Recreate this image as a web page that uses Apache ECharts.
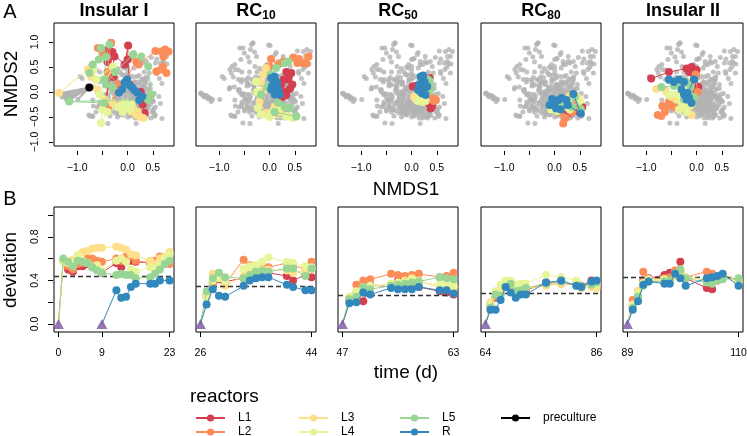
<!DOCTYPE html>
<html><head><meta charset="utf-8">
<script src="https://cdn.jsdelivr.net/npm/echarts@6/dist/echarts.min.js"></script>
<style>html,body{margin:0;padding:0;background:#fff}#c{width:747px;height:436px}</style>
</head><body><div id="c"></div>
<script>
// ---------- labels ----------
const reactors = ['L1','L2','L3','L4','L5','R'];
const reactorColors = ['#D53E4F','#FC8D59','#FEE08B','#E6F598','#99D594','#3288BD'];
const phaseTitles = ['Insular I','RC10','RC50','RC80','Insular II'];
const nmdsTicks = [-1,-0.5,0,0.5];
const nmdsTickLabels = [-1,0,0.5];
const nmds2Ticks = [-1,-0.5,0,0.5,1];
const devTicks = [0,0.2,0.4,0.6,0.8,1.0];
const devTickLabels = [0,0.4,0.8];
const timeTicks = [[0,9,23],[26,44],[47,63],[64,86],[89,110]];
const phaseStart = [0,26,47,64,89];
const insularIRStart = 9;
const thresholds = [0.44,0.35,0.26,0.275,0.43];

// ---------- panel A: NMDS coordinates ----------
const preculture = [[-0.76,0.09]];
const leftTail = [[-1.37,-0.03],[-1.34,-0.05],[-1.31,-0.06],[-1.28,-0.08],[-1.25,-0.07],[-1.23,-0.10],[-1.20,-0.11],[-1.17,-0.13],[-1.13,-0.15],[-1.30,-0.10],[-1.22,-0.14],[-0.99,-0.15]];
const bgScatter = [[-0.94,0.31],[-0.79,0.09],[-0.62,0.04],[-0.52,-0.03],[-0.69,-0.16],[-0.46,-0.16],[-0.56,-0.29],[-0.75,-0.48],[-0.69,-0.49],[-0.39,-0.63],[-0.62,0.44],[-0.75,0.51],[-0.56,0.20],[-0.42,0.29],[-0.32,0.24],[-0.22,0.29],[-0.09,0.34],[-0.39,0.14],[-0.29,0.11],[-0.19,0.17],[-0.12,0.09],[0.38,-0.46],[0.50,-0.37],[0.55,-0.46],[0.68,-0.53],[0.45,0.07],[0.53,-0.03],[0.62,-0.09],[0.51,-0.19],[0.65,-0.23],[0.13,0.79],[0.05,0.67],[-0.02,0.94],[0.58,0.37],[0.63,0.27],[0.68,0.17],[0.78,0.56],[0.71,0.61],
 [-0.45,-0.05],[-0.38,-0.10],[-0.30,-0.02],[-0.25,-0.12],[-0.20,-0.05],[-0.15,-0.15],[-0.10,-0.02],[-0.05,-0.10],[0.00,-0.05],[0.05,-0.15],[0.10,-0.08],[0.15,-0.20],[0.20,-0.12],[0.25,-0.25],[-0.40,-0.20],[-0.35,-0.28],[-0.28,-0.22],[-0.22,-0.30],[-0.18,-0.25],[-0.12,-0.32],[-0.08,-0.22],[-0.02,-0.28],[0.03,-0.35],[0.08,-0.25],[0.12,-0.32],[0.18,-0.38],[0.22,-0.30],[0.28,-0.35],[-0.30,-0.38],[-0.25,-0.42],[-0.18,-0.40],[-0.10,-0.45],[-0.05,-0.38],[0.00,-0.42],[0.06,-0.48],[0.12,-0.44],[-0.42,-0.32],[-0.48,-0.15],[-0.32,0.04],[-0.18,0.02],[-0.06,0.05],[0.06,0.00],[0.12,0.05],[0.20,-0.02],[0.27,0.02],[-0.15,-0.35],[-0.35,-0.48],[-0.20,-0.50],[0.15,-0.52],[0.24,-0.45],[-0.55,-0.25],[-0.50,-0.38]];

const nmdsI_L1 = [[-0.33,0.98],[-0.30,0.80],[-0.45,-0.28],[-0.26,0.71],[-0.40,0.60],[-0.28,0.30],[-0.38,0.85],[-0.06,0.55],[0.01,0.93],[0.00,0.65],[0.04,0.15],[0.26,0.00],[0.31,-0.12],[0.30,-0.25],[0.34,-0.42]];
const nmdsI_L2 = [[-0.59,0.88],[-0.50,0.78],[-0.33,0.98],[-0.40,0.40],[-0.19,0.15],[-0.39,-0.35],[0.17,0.61],[0.22,0.55],[0.55,0.82],[0.67,0.81],[0.74,0.85],[0.81,0.81],[0.71,0.71],[0.66,0.45],[0.57,0.41],[0.77,0.38],[0.70,0.50]];
const nmdsI_L3 = [[-1.36,-0.02],[-0.79,0.45],[-0.72,0.30],[-0.60,0.05],[-0.45,-0.15],[-0.30,-0.22],[-0.13,-0.25],[-0.08,-0.33],[-0.03,-0.30],[0.07,-0.39],[0.12,-0.35],[0.17,-0.45],[0.24,-0.49],[0.31,-0.52],[0.20,-0.40]];
const nmdsI_L4 = [[-0.68,0.45],[-0.62,0.25],[-0.29,0.51],[-0.55,-0.05],[-0.50,-0.35],[-0.53,-0.62],[-0.40,-0.40],[-0.20,-0.30],[-0.13,-0.29],[-0.05,-0.22],[0.00,-0.30],[0.08,-0.25],[-0.10,-0.40],[0.05,-0.35]];
const nmdsI_L5 = [[-0.76,0.38],[-0.69,0.55],[-0.57,0.65],[-0.53,0.88],[-0.36,0.95],[-0.43,0.70],[-0.46,0.25],[-0.43,0.15],[-0.25,0.40],[0.11,0.75],[0.27,0.71],[0.41,0.51],[0.47,-0.05],[0.40,-0.15],[-1.16,-0.19],[-0.46,-0.22],[-0.30,0.10]];
const nmdsI_R = [[-0.17,-0.01],[-0.11,0.05],[-0.06,0.19],[-0.01,0.25],[0.03,0.14],[0.09,0.09],[0.13,0.04],[0.19,-0.01],[0.29,-0.09],[0.23,-0.16]];

const nmdsRC10_L1 = [[0.33,0.40],[0.43,0.38],[0.37,0.25],[0.45,0.15],[0.40,0.06],[0.30,0.00],[0.33,-0.06],[0.25,-0.10],[0.23,0.15],[0.28,0.25],[0.38,0.30]];
const nmdsRC10_L2 = [[0.00,0.51],[0.03,0.66],[0.17,0.55],[0.27,0.61],[0.47,0.69],[0.58,0.66],[0.65,0.58],[0.73,0.57],[0.77,0.71],[0.55,0.58]];
const nmdsRC10_L3 = [[-0.07,0.48],[-0.12,0.35],[-0.18,0.20],[-0.10,0.05],[-0.20,-0.20],[-0.07,-0.42],[0.05,-0.45],[0.20,-0.40],[0.35,-0.48],[0.10,-0.30]];
const nmdsRC10_L4 = [[-0.27,0.21],[-0.25,0.00],[-0.23,-0.32],[-0.17,-0.45],[0.05,-0.40],[0.20,-0.35],[0.33,-0.49],[0.46,-0.52],[0.00,-0.50]];
const nmdsRC10_L5 = [[0.13,0.48],[0.30,0.58],[0.37,0.61],[0.02,0.35],[-0.17,-0.05],[-0.05,0.10],[0.17,-0.22],[0.30,-0.30],[0.40,-0.32],[0.53,-0.49],[0.10,-0.40]];
const nmdsRC10_R = [[0.03,0.28],[0.10,0.31],[0.13,0.21],[0.07,0.15],[0.10,0.08],[0.17,0.05],[0.03,0.05],[0.13,-0.02],[0.20,-0.05],[0.10,-0.05],[0.05,0.12],[0.15,0.18]];

const nmdsRC50_L1 = [[0.02,0.11],[0.08,0.12],[0.36,0.28],[0.30,-0.10],[0.35,-0.23],[0.41,-0.28],[0.38,-0.33]];
const nmdsRC50_L2 = [[0.28,-0.10],[0.40,-0.12],[0.48,-0.15],[0.44,-0.18]];
const nmdsRC50_L3 = [[0.05,-0.09],[0.08,-0.14],[0.15,-0.16],[0.20,-0.12],[0.27,-0.14],[0.12,-0.06]];
const nmdsRC50_L4 = [[0.12,-0.18],[0.22,-0.20],[0.28,-0.18],[0.18,-0.10],[0.30,-0.02]];
const nmdsRC50_L5 = [[0.31,0.26],[0.36,0.22],[0.35,0.17],[0.30,0.10],[0.37,0.05],[0.33,0.13]];
const nmdsRC50_R = [[0.18,0.31],[0.23,0.33],[0.21,0.20],[0.15,0.14],[0.13,0.04],[0.18,0.00],[0.25,0.07],[0.31,0.11],[0.21,-0.03],[0.28,-0.06],[0.26,0.20]];

const nmdsRC80_L1 = [[0.02,-0.25],[0.20,-0.35],[0.30,-0.42],[0.48,-0.40],[0.55,-0.30]];
const nmdsRC80_L2 = [[0.00,-0.22],[0.10,-0.40],[0.17,-0.63],[0.22,-0.52],[0.35,-0.40],[0.45,-0.25]];
const nmdsRC80_L3 = [[-0.07,-0.20],[0.05,-0.30],[0.15,-0.22],[0.30,-0.08],[0.45,-0.10],[0.20,-0.28]];
const nmdsRC80_L4 = [[-0.07,-0.35],[0.05,-0.38],[0.18,-0.30],[0.37,-0.09],[0.50,-0.18],[0.30,-0.35]];
const nmdsRC80_L5 = [[-0.08,-0.20],[0.00,-0.28],[0.10,-0.25],[0.25,-0.20],[0.40,-0.10],[0.52,-0.34],[0.35,-0.30],[0.15,-0.30]];
const nmdsRC80_R = [[-0.10,-0.26],[-0.05,-0.14],[0.02,-0.19],[0.08,-0.16],[0.14,-0.12],[0.23,-0.16],[0.37,-0.04],[0.52,-0.43],[0.26,-0.26],[0.03,-0.33],[0.12,-0.35],[-0.05,-0.25]];

const nmdsII_L1 = [[-0.90,0.27],[-0.55,0.40],[-0.20,0.47],[-0.10,0.50],[0.00,0.44],[-0.15,0.40],[-0.05,0.25],[0.03,0.10],[-0.02,0.00]];
const nmdsII_L2 = [[-0.77,-0.46],[-0.70,-0.48],[-0.63,-0.40],[-0.60,-0.30],[-0.68,-0.28],[-0.55,-0.20],[-0.45,-0.30],[0.02,0.00],[-0.02,0.35]];
const nmdsII_L3 = [[-0.80,0.06],[-0.60,0.00],[-0.50,-0.10],[-0.40,-0.15],[-0.25,-0.25],[-0.15,-0.30],[-0.10,-0.46]];
const nmdsII_L4 = [[-0.55,-0.05],[-0.40,-0.05],[-0.30,-0.20],[-0.25,-0.30],[-0.35,-0.35],[-0.20,-0.40],[-0.10,-0.25]];
const nmdsII_L5 = [[-0.70,0.10],[-0.45,0.12],[-0.30,0.15],[-0.20,0.20],[-0.12,0.10],[-0.05,-0.10],[-0.15,-0.05],[-0.25,-0.15]];
const nmdsII_R = [[-0.55,0.25],[-0.45,0.20],[-0.35,0.25],[-0.25,0.20],[-0.30,0.05],[-0.25,-0.05],[-0.20,-0.15],[-0.15,-0.12],[-0.10,-0.22],[-0.18,-0.02],[-0.05,0.25]];

// ---------- panel B: deviation over time ----------
const daysI = [1,2,3,4,5,6,7,8,9,12,13,14,15,16,19,20,21,22,23];
const daysIR = [12,13,14,15,16,19,20,21,23];
const devI_L1 = [0.58,0.50,0.48,0.53,0.53,0.55,0.52,0.50,0.47,0.56,0.52,0.60,0.58,0.57,0.56,0.54,0.58,0.55,0.57];
const devI_L2 = [0.58,0.53,0.50,0.55,0.56,0.60,0.60,0.58,0.57,0.60,0.58,0.62,0.62,0.58,0.56,0.58,0.62,0.60,0.55];
const devI_L3 = [0.58,0.57,0.59,0.63,0.66,0.67,0.69,0.70,0.70,0.71,0.70,0.68,0.64,0.63,0.58,0.55,0.60,0.62,0.66];
const devI_L4 = [0.57,0.56,0.55,0.63,0.58,0.56,0.52,0.54,0.49,0.58,0.60,0.57,0.50,0.48,0.52,0.50,0.54,0.60,0.64];
const devI_L5 = [0.60,0.57,0.53,0.58,0.57,0.56,0.52,0.49,0.47,0.45,0.46,0.45,0.45,0.42,0.43,0.46,0.50,0.55,0.58];
const devI_R = [0.31,0.24,0.25,0.34,0.37,0.37,0.37,0.40,0.40];

const daysRC10 = [27,28,29,30,33,34,35,36,37,40,41,43,44];
const devRC10_L1 = [0.25,0.38,0.41,0.39,0.42,0.43,0.44,0.45,0.47,0.44,0.40,0.45,0.43];
const devRC10_L2 = [0.27,0.37,0.44,0.37,0.59,0.54,0.50,0.52,0.52,0.56,0.53,0.51,0.57];
const devRC10_L3 = [0.26,0.46,0.42,0.35,0.44,0.48,0.50,0.50,0.50,0.49,0.47,0.49,0.50];
const devRC10_L4 = [0.24,0.40,0.43,0.40,0.51,0.53,0.54,0.57,0.61,0.57,0.56,0.53,0.52];
const devRC10_L5 = [0.30,0.42,0.47,0.43,0.42,0.45,0.48,0.49,0.48,0.51,0.51,0.44,0.51];
const devRC10_R = [0.18,0.32,0.26,0.25,0.35,0.40,0.42,0.43,0.43,0.36,0.34,0.31,0.31];

const daysRC50 = [48,49,50,51,54,55,56,57,58,61,62,63];
const devRC50_L1 = [0.22,0.28,0.21,0.36,0.34,0.40,0.35,0.35,0.34,0.30,0.29,0.27];
const devRC50_L2 = [0.24,0.36,0.40,0.41,0.46,0.45,0.44,0.45,0.46,0.43,0.44,0.47];
const devRC50_L3 = [0.24,0.29,0.33,0.34,0.37,0.36,0.40,0.42,0.40,0.33,0.34,0.34];
const devRC50_L4 = [0.25,0.30,0.34,0.35,0.37,0.38,0.38,0.41,0.38,0.36,0.36,0.35];
const devRC50_L5 = [0.23,0.25,0.34,0.32,0.35,0.36,0.37,0.38,0.39,0.43,0.42,0.41];
const devRC50_R = [0.19,0.20,0.29,0.27,0.33,0.32,0.32,0.32,0.34,0.31,0.31,0.28];

const daysRC80 = [65,66,67,68,69,70,71,72,76,79,82,83,85,86];
const devRC80_L1 = [0.18,0.24,0.31,0.34,0.33,0.30,0.30,0.31,0.38,0.38,0.36,0.35,0.40,0.38];
const devRC80_L2 = [0.16,0.25,0.28,0.35,0.32,0.32,0.31,0.32,0.36,0.37,0.36,0.35,0.38,0.37];
const devRC80_L3 = [0.20,0.28,0.32,0.36,0.35,0.34,0.33,0.33,0.35,0.37,0.36,0.33,0.34,0.33];
const devRC80_L4 = [0.17,0.30,0.36,0.40,0.40,0.36,0.37,0.37,0.45,0.43,0.40,0.35,0.37,0.36];
const devRC80_L5 = [0.15,0.27,0.26,0.34,0.37,0.30,0.31,0.33,0.37,0.39,0.35,0.35,0.36,0.38];
const devRC80_R = [0.13,0.13,0.22,0.34,0.29,0.24,0.27,0.27,0.38,0.40,0.35,0.34,0.39,0.40];

const daysII = [90,91,92,93,96,97,98,99,100,104,105,106,107,110];
const devII_L1 = [0.16,0.28,0.40,0.42,0.45,0.47,0.48,0.57,0.42,0.33,0.32,0.40,0.45,0.40];
const devII_L2 = [0.22,0.30,0.48,0.41,0.42,0.43,0.49,0.48,0.43,0.48,0.46,0.42,0.44,0.40];
const devII_L3 = [0.18,0.30,0.38,0.40,0.40,0.38,0.44,0.46,0.43,0.40,0.41,0.43,0.45,0.38];
const devII_L4 = [0.17,0.28,0.37,0.41,0.41,0.39,0.45,0.50,0.43,0.41,0.40,0.44,0.46,0.40];
const devII_L5 = [0.15,0.25,0.35,0.39,0.39,0.40,0.46,0.50,0.42,0.38,0.37,0.40,0.41,0.42];
const devII_R = [0.13,0.21,0.36,0.39,0.37,0.37,0.46,0.42,0.35,0.42,0.43,0.44,0.46,0.35];

// ---------- assembly ----------
const nmdsByPhase = [
  [nmdsI_L1,nmdsI_L2,nmdsI_L3,nmdsI_L4,nmdsI_L5,nmdsI_R],
  [nmdsRC10_L1,nmdsRC10_L2,nmdsRC10_L3,nmdsRC10_L4,nmdsRC10_L5,nmdsRC10_R],
  [nmdsRC50_L1,nmdsRC50_L2,nmdsRC50_L3,nmdsRC50_L4,nmdsRC50_L5,nmdsRC50_R],
  [nmdsRC80_L1,nmdsRC80_L2,nmdsRC80_L3,nmdsRC80_L4,nmdsRC80_L5,nmdsRC80_R],
  [nmdsII_L1,nmdsII_L2,nmdsII_L3,nmdsII_L4,nmdsII_L5,nmdsII_R]
];
const devByPhase = [
  [devI_L1,devI_L2,devI_L3,devI_L4,devI_L5,devI_R],
  [devRC10_L1,devRC10_L2,devRC10_L3,devRC10_L4,devRC10_L5,devRC10_R],
  [devRC50_L1,devRC50_L2,devRC50_L3,devRC50_L4,devRC50_L5,devRC50_R],
  [devRC80_L1,devRC80_L2,devRC80_L3,devRC80_L4,devRC80_L5,devRC80_R],
  [devII_L1,devII_L2,devII_L3,devII_L4,devII_L5,devII_R]
];
const daysByPhase = [daysI,daysRC10,daysRC50,daysRC80,daysII];

const FONT = '"Liberation Sans", Arial, Helvetica, sans-serif';
const gridLeft = [54,196,338,481,623];
const GW = 120;
const fmt = v => (v < 0 ? '\u2212' : '') + Math.abs(v).toFixed(1);

function padRange(a, b, f) { const d = (b - a) * f; return [a - d, b + d]; }

const option = {animation:false, grid:[], xAxis:[], yAxis:[], series:[], legend:[], graphic:[]};

// Panel A grids
for (let p = 0; p < 5; p++) {
  option.grid.push({left:gridLeft[p], top:23, width:GW, height:123, show:true, borderColor:'#000', borderWidth:1, backgroundColor:'transparent', outerBoundsMode:'none'});
  option.xAxis.push({gridIndex:p, type:'value', min:-1.46, max:0.92, offset:5, position:'bottom',
    axisLine:{show:false, onZero:false}, splitLine:{show:false},
    axisTick:{show:true, length:4, customValues:nmdsTicks, lineStyle:{color:'#000'}},
    axisLabel:{customValues:nmdsTickLabels, formatter:fmt, fontSize:10.5, color:'#000', margin:12, fontFamily:FONT}});
  option.yAxis.push({gridIndex:p, type:'value', min:-1.08, max:1.38, show:p===0, offset:1, position:'left',
    axisLine:{show:false, onZero:false}, splitLine:{show:false},
    axisTick:{show:true, length:4, customValues:nmds2Ticks, lineStyle:{color:'#000'}},
    axisLabel:{customValues:nmds2Ticks, formatter:fmt, rotate:90, fontSize:10.5, color:'#000', margin:12, fontFamily:FONT}});
}
// Panel B grids
for (let p = 0; p < 5; p++) {
  const g = 5 + p;
  const lo = p === 0 ? 0 : phaseStart[p];
  const hi = timeTicks[p][timeTicks[p].length - 1];
  const r = padRange(lo, hi, 0.04);
  option.grid.push({left:gridLeft[p], top:207, width:GW, height:125, show:true, borderColor:'#000', borderWidth:1, backgroundColor:'transparent', outerBoundsMode:'none'});
  option.xAxis.push({gridIndex:g, type:'value', min:r[0], max:r[1], offset:0, position:'bottom',
    axisLine:{show:false, onZero:false}, splitLine:{show:false},
    axisTick:{show:true, length:5, customValues:timeTicks[p], lineStyle:{color:'#000'}},
    axisLabel:{customValues:timeTicks[p], fontSize:10.5, color:'#000', margin:16, fontFamily:FONT}});
  option.yAxis.push({gridIndex:g, type:'value', min:-0.073, max:1.073, show:p===0, offset:1, position:'left',
    axisLine:{show:false, onZero:false}, splitLine:{show:false},
    axisTick:{show:true, length:5, customValues:devTicks, lineStyle:{color:'#000'}},
    axisLabel:{customValues:devTickLabels, formatter:fmt, rotate:90, fontSize:10.5, color:'#000', margin:12, fontFamily:FONT}});
}

// Panel A series
const bg = leftTail.concat(bgScatter);
for (let p = 0; p < 5; p++) {
  let gray = bg.slice();
  for (let q = 0; q < 5; q++) if (q !== p) nmdsByPhase[q].forEach(a => { gray = gray.concat(a); });
  option.series.push({type:'scatter', xAxisIndex:p, yAxisIndex:p, data:gray, symbolSize:5,
    itemStyle:{color:'#b3b3b3'}, silent:true, z:1});
  if (p === 0) {
    const wedge = [];
    leftTail.forEach(t => { wedge.push(preculture[0]); wedge.push(t); });
    option.series.push({type:'line', xAxisIndex:0, yAxisIndex:0, data:wedge, showSymbol:false, symbol:'none',
      lineStyle:{color:'#b3b3b3', width:2}, silent:true, z:1});
  }
  reactors.forEach((name, r) => {
    option.series.push({name:name, type:'line', xAxisIndex:p, yAxisIndex:p, data:nmdsByPhase[p][r],
      symbol:'circle', symbolSize:8, showAllSymbol:true, color:reactorColors[r],
      itemStyle:{color:reactorColors[r]}, lineStyle:{color:reactorColors[r], width:1}, z:2+r});
  });
  if (p === 0) {
    option.series.push({name:'preculture', type:'line', xAxisIndex:0, yAxisIndex:0, data:preculture,
      symbol:'circle', symbolSize:8, color:'#000', itemStyle:{color:'#000'}, lineStyle:{color:'#000', width:1.5}, z:10});
  }
}

// Panel B series
for (let p = 0; p < 5; p++) {
  const g = 5 + p;
  option.series.push({type:'line', xAxisIndex:g, yAxisIndex:g, data:[], silent:true, z:1,
    markLine:{silent:true, symbol:'none', label:{show:false}, animation:false,
      lineStyle:{type:[5,3], color:'#333', width:1.3}, data:[{yAxis:thresholds[p]}]}});
  reactors.forEach((name, r) => {
    const start = (p === 0 && name === 'R') ? insularIRStart : phaseStart[p];
    const days = (p === 0 && name === 'R') ? daysIR : daysByPhase[p];
    const vals = devByPhase[p][r];
    const data = [[start, 0]].concat(days.map((d, i) => [d, vals[i]]));
    option.series.push({name:name, type:'line', xAxisIndex:g, yAxisIndex:g,
      data:data.map((v, i) => ({value:v, symbol: i === 0 ? 'none' : 'circle'})),
      symbol:'circle', symbolSize:8, showAllSymbol:true, color:reactorColors[r],
      itemStyle:{color:reactorColors[r]}, lineStyle:{color:reactorColors[r], width:1}, z:2+r});
  });
  const starts = p === 0 ? [[phaseStart[0],0],[insularIRStart,0]] : [[phaseStart[p],0]];
  option.series.push({type:'scatter', xAxisIndex:g, yAxisIndex:g, data:starts, symbol:'triangle',
    symbolSize:[11,10], itemStyle:{color:'#7B52A1'}, silent:true, z:12});
}

// Legends
const legBase = {orient:'vertical', top:412, height:60, itemWidth:29, itemHeight:9, itemGap:2, selectedMode:false,
  padding:0, textStyle:{fontSize:12, color:'#000', fontFamily:FONT, padding:[0,0,0,8]}};
option.legend.push(Object.assign({}, legBase, {left:195, data:['L1','L2']}));
option.legend.push(Object.assign({}, legBase, {left:298, data:['L3','L4']}));
option.legend.push(Object.assign({}, legBase, {left:399, data:['L5','R']}));
option.legend.push(Object.assign({}, legBase, {left:500, data:['preculture']}));

// Texts
const T = (x, y, text, size, opts) => Object.assign({type:'text', x:x, y:y, silent:true,
  style:Object.assign({text:text, fontSize:size, fontFamily:FONT, fill:'#000', align:'center', verticalAlign:'middle'}, (opts && opts.style) || {})},
  opts && opts.rotation ? {rotation:opts.rotation} : {});
option.graphic.push(T(10, 12, 'A', 20));
option.graphic.push(T(10, 199, 'B', 20));
phaseTitles.forEach((t, p) => {
  const cx = gridLeft[p] + GW / 2;
  if (t.startsWith('RC')) {
    option.graphic.push({type:'text', x:cx, y:11, silent:true, style:{text:'{a|RC}{b|' + t.slice(2) + '}',
      align:'center', verticalAlign:'middle', fill:'#000',
      rich:{a:{fontSize:18, fontWeight:'bold', fontFamily:FONT, lineHeight:22, verticalAlign:'middle'},
            b:{fontSize:12, fontWeight:'bold', fontFamily:FONT, lineHeight:14, verticalAlign:'bottom'}}}});
  } else {
    option.graphic.push(T(cx, 11, t, 18, {style:{fontWeight:'bold'}}));
  }
});
option.graphic.push(T(12, 84, 'NMDS2', 19, {rotation:Math.PI/2}));
option.graphic.push(T(406, 190, 'NMDS1', 19));
option.graphic.push(T(11, 270, 'deviation', 19, {rotation:Math.PI/2}));
option.graphic.push(T(406, 373, 'time (d)', 19));
option.graphic.push(T(190, 397, 'reactors', 19, {style:{align:'left'}}));

const chart = echarts.init(document.getElementById('c'), null, {renderer:'canvas'});
chart.setOption(option);
</script>
</body></html>
